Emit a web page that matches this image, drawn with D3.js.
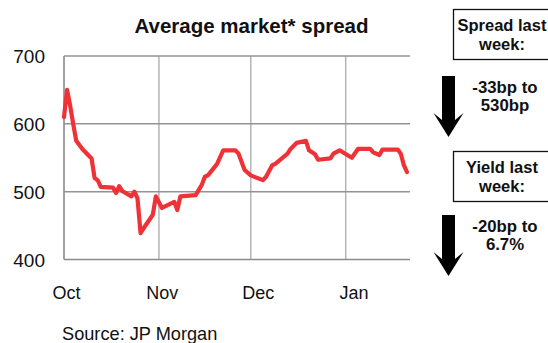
<!DOCTYPE html>
<html>
<head>
<meta charset="utf-8">
<script src="https://cdn.jsdelivr.net/npm/d3@7"></script>
<style>
  html, body { margin: 0; padding: 0; background: #fff; }
  svg { display: block; font-family: "Liberation Sans", Arial, Helvetica, sans-serif; }
</style>
</head>
<body>
<svg id="chart" width="548" height="343"></svg>
<script>
// ---- data ----
const dates = [
  "2008-10-01","2008-10-02","2008-10-03","2008-10-04","2008-10-05","2008-10-07",
  "2008-10-10","2008-10-11","2008-10-12","2008-10-13","2008-10-17","2008-10-18",
  "2008-10-19","2008-10-20","2008-10-23","2008-10-24","2008-10-25","2008-10-26",
  "2008-10-27","2008-10-30","2008-10-31","2008-11-02","2008-11-06","2008-11-07",
  "2008-11-08","2008-11-13","2008-11-15","2008-11-16","2008-11-17","2008-11-20",
  "2008-11-22","2008-11-26","2008-11-27","2008-11-29","2008-12-01","2008-12-05",
  "2008-12-06","2008-12-08","2008-12-09","2008-12-13","2008-12-14","2008-12-16",
  "2008-12-19","2008-12-20","2008-12-22","2008-12-23","2008-12-27","2008-12-28",
  "2008-12-30","2009-01-03","2009-01-05","2009-01-09","2009-01-10","2009-01-12",
  "2009-01-13","2009-01-18","2009-01-19","2009-01-20","2009-01-21"
];
const spread = [
  610, 650, 627, 600, 575, 563,
  549, 520, 517, 507, 506, 498,
  508, 501, 493, 500, 490, 439,
  446, 466, 493, 476, 485, 473,
  493, 495, 510, 522, 524, 541,
  561, 561, 556, 532, 524, 517,
  522, 539, 541, 556, 563, 572,
  575, 561, 555, 547, 549, 556,
  561, 550, 563, 563, 558, 554,
  562, 562, 556, 539, 529
];
const yTicks = [400, 500, 600, 700];
const monthTicks = ["2008-10-01", "2008-11-01", "2008-12-01", "2009-01-01"];
const monthLabels = ["Oct", "Nov", "Dec", "Jan"];
const titleText = "Average market* spread";
const sourceText = "Source: JP Morgan";
const boxTexts = [["Spread last", "week:"], ["Yield last", "week:"]];
const changeTexts = [["-33bp to", "530bp"], ["-20bp to", "6.7%"]];

// ---- layout ----
const parse = d3.timeParse("%Y-%m-%d");
const data = dates.map((d, i) => ({ date: parse(d), value: spread[i] }));

const x = d3.scaleTime()
  .domain([parse("2008-10-01"), parse("2009-01-22")])
  .range([64, 410]);
const y = d3.scaleLinear().domain([400, 700]).range([259.5, 56]);

const svg = d3.select("#chart");

// title
svg.append("text")
  .attr("x", 251.5).attr("y", 32.5)
  .attr("text-anchor", "middle")
  .attr("font-size", 20.5).attr("font-weight", "bold").attr("fill", "#111")
  .text(titleText);

// vertical gridlines
svg.append("g").selectAll("line")
  .data(monthTicks.slice(1).map(parse))
  .join("line")
  .attr("x1", d => x(d)).attr("x2", d => x(d))
  .attr("y1", y(700)).attr("y2", y(400))
  .attr("stroke", "#b5b5b5").attr("stroke-width", 1.5);

// horizontal gridlines
svg.append("g").selectAll("line")
  .data(yTicks.slice(1))
  .join("line")
  .attr("x1", x.range()[0]).attr("x2", x.range()[1])
  .attr("y1", d => y(d)).attr("y2", d => y(d))
  .attr("stroke", "#939393").attr("stroke-width", 1.5);

// axes lines
svg.append("line")
  .attr("x1", x.range()[0]).attr("x2", x.range()[1])
  .attr("y1", y(400)).attr("y2", y(400))
  .attr("stroke", "#8a8a8a").attr("stroke-width", 1.6);
svg.append("line")
  .attr("x1", x.range()[0]).attr("x2", x.range()[0])
  .attr("y1", y(700)).attr("y2", y(400))
  .attr("stroke", "#8a8a8a").attr("stroke-width", 1.6);

// y tick labels
svg.append("g").selectAll("text")
  .data(yTicks)
  .join("text")
  .attr("x", 45).attr("y", d => y(d) + 7)
  .attr("text-anchor", "end")
  .attr("font-size", 19).attr("fill", "#111")
  .text(d => d);

// month labels
const labelX = d3.scaleLinear().domain([0, monthLabels.length - 1]).range([66.5, 354]);
svg.append("g").selectAll("text")
  .data(monthLabels)
  .join("text")
  .attr("x", (d, i) => labelX(i)).attr("y", 298.5)
  .attr("text-anchor", "middle")
  .attr("font-size", 18).attr("fill", "#111")
  .text(d => d);

// line
svg.append("path")
  .datum(data)
  .attr("fill", "none")
  .attr("stroke", "#ee3237")
  .attr("stroke-width", 4.2)
  .attr("stroke-linejoin", "round")
  .attr("stroke-linecap", "round")
  .attr("d", d3.line().x(d => x(d.date)).y(d => y(d.value)));

// source
svg.append("text")
  .attr("x", 62).attr("y", 340)
  .attr("font-size", 18.2).attr("fill", "#111")
  .text(sourceText);

// right-side panel
const boxTop = [9.5, 151.5];
const arrowTop = [76, 215];
boxTexts.forEach((lines, i) => {
  svg.append("rect")
    .attr("x", 453.5).attr("y", boxTop[i])
    .attr("width", 100).attr("height", 50)
    .attr("fill", "#fff").attr("stroke", "#111").attr("stroke-width", 1.3);
  lines.forEach((t, j) => {
    svg.append("text")
      .attr("x", 502).attr("y", boxTop[i] + 21.5 + j * 18.5)
      .attr("text-anchor", "middle")
      .attr("font-size", 16.5).attr("font-weight", "bold").attr("fill", "#111")
      .text(t);
  });
  const t0 = arrowTop[i];
  svg.append("path")
    .attr("d", `M442,${t0} L455,${t0} L455,${t0 + 44} L463.5,${t0 + 37} L448.5,${t0 + 61} L433.5,${t0 + 37} L442,${t0 + 44} Z`)
    .attr("fill", "#000");
  changeTexts[i].forEach((t, j) => {
    svg.append("text")
      .attr("x", 505).attr("y", t0 + 17 + j * 18)
      .attr("text-anchor", "middle")
      .attr("font-size", 16.8).attr("font-weight", "bold").attr("fill", "#111")
      .text(t);
  });
});
</script>
</body>
</html>
